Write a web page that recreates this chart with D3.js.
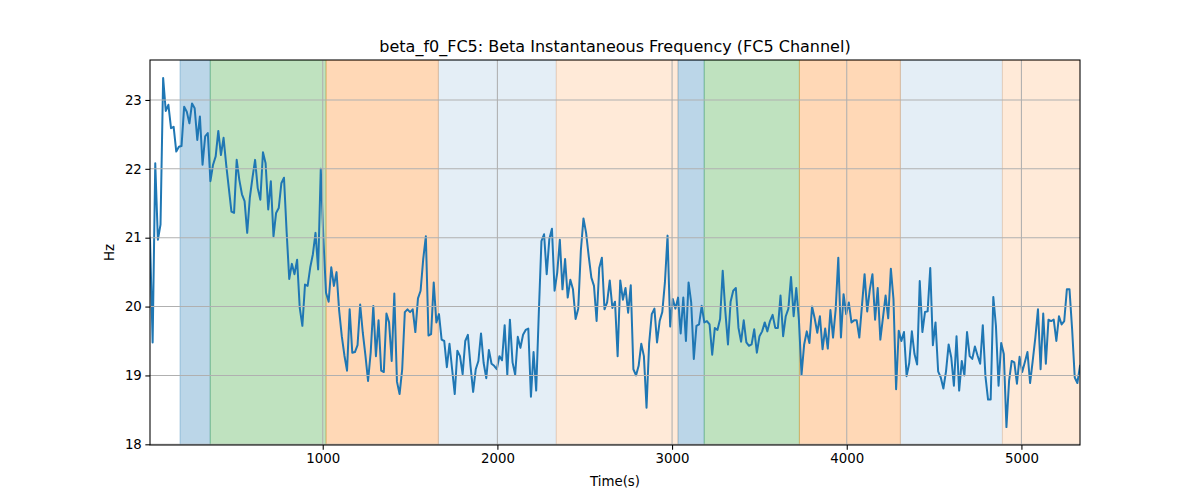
<!DOCTYPE html>
<html>
<head>
<meta charset="utf-8">
<script src="https://cdn.jsdelivr.net/npm/d3@7"></script>
<style>
  html, body { margin: 0; padding: 0; background: #fff; }
  svg { display: block; font-family: "DejaVu Sans", sans-serif; }
</style>
</head>
<body>
<svg id="chart" width="1200" height="500"></svg>
<script>
// ---------- data ----------
const title = "beta_f0_FC5: Beta Instantaneous Frequency (FC5 Channel)";
const xLabel = "Time(s)";
const yLabel = "Hz";

// sampling of the signal (seconds)
const startTime = 11.2;
const sampleStep = 15.04;

// instantaneous frequency values (Hz), one per sample
const freqValues = [
  21.0, 19.48, 22.08, 20.97, 21.19, 23.32, 22.84, 22.93, 22.59, 22.61,
  22.25, 22.32, 22.33, 22.90, 22.83, 22.66, 22.95, 22.88, 22.42, 22.76,
  22.06, 22.47, 22.52, 21.82, 22.06, 22.18, 22.55, 22.20, 22.45, 22.06,
  21.72, 21.38, 21.36, 22.13, 21.84, 21.63, 21.53, 21.07, 21.58, 21.87,
  22.13, 21.72, 21.55, 22.24, 22.08, 21.41, 21.82, 21.02, 21.36, 21.43,
  21.79, 21.87, 21.09, 20.40, 20.62, 20.47, 20.68, 19.98, 19.72,
  20.32, 20.30, 20.57, 20.76, 21.07, 20.54, 22.00, 20.98, 20.20, 20.07,
  20.57, 20.30, 20.50, 19.94, 19.57, 19.29, 19.07, 19.96, 19.33, 19.34,
  19.44, 20.03, 19.62, 19.29, 18.92, 19.33, 20.01, 19.28, 19.80, 19.07,
  19.05, 19.90, 19.77, 19.21, 20.19, 18.91, 18.73, 19.09, 19.92, 19.96,
  19.92, 19.96, 19.63, 20.12, 20.23, 20.69, 21.02, 19.58, 19.60, 20.35,
  19.77, 19.89, 19.52, 19.50, 19.12, 19.46, 19.09, 18.73,
  19.36, 19.28, 19.02, 19.50, 19.59, 19.14, 18.76, 19.09, 19.21, 19.61,
  19.18, 18.96, 19.37, 19.17, 19.14, 19.09, 19.28, 19.22, 19.73, 19.01,
  19.81, 19.19, 19.01, 19.56, 19.40, 19.59, 19.66, 19.68, 18.69, 19.34,
  18.78, 19.91, 20.95, 21.05, 20.47, 20.98, 21.13, 20.23, 20.49, 20.97,
  20.25, 20.69, 20.13, 20.39, 20.25, 19.82, 19.97, 20.81, 21.28, 21.07,
  20.73, 20.42, 20.30, 19.79, 20.56, 20.71, 19.96, 20.06,
  20.38, 19.98, 20.07, 19.28, 20.38, 20.10, 20.27, 19.91, 20.31, 19.09,
  19.00, 19.14, 19.46, 19.28, 18.53, 19.47, 19.89, 19.97, 19.48, 19.79,
  19.92, 20.35, 21.03, 19.71, 20.11, 19.97, 20.13, 19.61, 20.13, 19.50,
  20.35, 20.06, 19.24, 19.72, 19.74, 20.01, 19.77, 19.79, 19.74, 19.30,
  19.69, 19.66, 19.82, 20.52, 19.93, 19.45, 20.07, 20.23, 20.27, 19.69,
  19.49, 19.80, 19.48, 19.43, 19.45, 19.67, 19.33, 19.57,
  19.64, 19.77, 19.64, 19.79, 19.88, 19.69, 19.69, 20.16, 19.57, 19.86,
  19.97, 20.43, 19.86, 20.27, 19.81, 19.01, 19.45, 19.64, 19.47, 20.00,
  19.83, 19.62, 19.86, 19.38, 19.68, 19.39, 19.95, 19.55, 19.96, 20.71,
  19.55, 20.18, 19.89, 20.06, 19.77, 19.80, 19.80, 19.55, 20.01, 20.47,
  19.93, 20.25, 20.47, 19.81, 20.27, 19.52, 19.84, 20.16, 19.83, 20.55,
  20.11, 18.80, 19.65, 19.50, 19.63, 18.99, 19.18, 19.64,
  19.31, 19.16, 20.37, 19.63, 19.92, 19.93, 20.56, 19.44, 19.77, 19.06,
  18.97, 18.81, 19.06, 19.45, 19.26, 18.85, 19.57, 18.78, 19.21, 19.00,
  19.63, 19.28, 19.24, 19.42, 19.29, 19.17, 19.73, 18.99, 18.65, 18.65,
  20.14, 19.72, 18.85, 19.47, 19.31, 18.25, 18.92, 19.21, 19.19, 18.88,
  19.27, 19.05, 19.19, 19.34, 18.89, 19.21, 19.55, 19.96, 19.09, 19.90,
  19.17, 19.81, 19.79, 19.81, 19.50, 19.86, 19.74, 19.79, 20.25, 20.25,
  19.67, 18.97, 18.89, 19.14
];

// shaded phases
const spanStarts = [183, 356, 1019, 1662, 2337, 3034, 3184, 3729, 4307, 4891];
const spanEnds   = [356, 1019, 1662, 2337, 3034, 3184, 3729, 4307, 4891, 5400];
const spanKinds  = ["blue", "green", "orange", "lightblue", "lightorange",
                    "blue", "green", "orange", "lightblue", "lightorange"];

const xTicks = [1000, 2000, 3000, 4000, 5000];
const yTicks = [18, 19, 20, 21, 22, 23];

// ---------- styles ----------
const spanFill = {
  blue: "rgba(31,119,180,0.3)",
  green: "rgba(44,160,44,0.3)",
  orange: "rgba(255,127,14,0.3)",
  lightblue: "rgba(31,119,180,0.12)",
  lightorange: "rgba(255,127,14,0.16)"
};

// ---------- layout ----------
const W = 1200, H = 500;
const m = { left: 150, right: 120, top: 60, bottom: 55 };
const pw = W - m.left - m.right, ph = H - m.top - m.bottom;

const points = freqValues.map((v, i) => ({ t: startTime + i * sampleStep, v }));
const xMax = points[points.length - 1].t;

const x = d3.scaleLinear().domain([startTime, xMax]).range([0, pw]);
const y = d3.scaleLinear().domain([17.99, 23.58]).range([ph, 0]);

const svg = d3.select("#chart");
svg.append("rect").attr("width", W).attr("height", H).attr("fill", "#fff");

const g = svg.append("g").attr("transform", `translate(${m.left},${m.top})`);

svg.append("defs").append("clipPath").attr("id", "clip")
  .append("rect").attr("width", pw).attr("height", ph);

const plot = g.append("g").attr("clip-path", "url(#clip)");

// spans
const spans = spanStarts.map((s, i) => ({ s, e: spanEnds[i], k: spanKinds[i] }));
plot.selectAll("rect.span").data(spans).join("rect")
  .attr("class", "span")
  .attr("x", d => x(d.s))
  .attr("width", d => x(d.e) - x(d.s))
  .attr("y", 0).attr("height", ph)
  .attr("fill", d => spanFill[d.k])
  .attr("stroke", d => spanFill[d.k])
  .attr("stroke-width", 1);

// grid
const grid = g.append("g");
grid.selectAll("line.gx").data(xTicks).join("line")
  .attr("x1", d => x(d)).attr("x2", d => x(d))
  .attr("y1", 0).attr("y2", ph)
  .attr("stroke", "#b0b0b0").attr("stroke-width", 1.07);
grid.selectAll("line.gy").data(yTicks).join("line")
  .attr("y1", d => y(d)).attr("y2", d => y(d))
  .attr("x1", 0).attr("x2", pw)
  .attr("stroke", "#b0b0b0").attr("stroke-width", 1.07);

// line
plot.append("path").datum(points)
  .attr("fill", "none")
  .attr("stroke", "#1f77b4")
  .attr("stroke-width", 2)
  .attr("stroke-linejoin", "round")
  .attr("stroke-linecap", "square")
  .attr("d", d3.line().x(d => x(d.t)).y(d => y(d.v)));

// axes
const xAxis = g.append("g").attr("transform", `translate(0,${ph})`)
  .call(d3.axisBottom(x).tickValues(xTicks).tickFormat(d3.format("d")).tickSizeOuter(0).tickSize(4.67).tickPadding(3.5));
const yAxis = g.append("g")
  .call(d3.axisLeft(y).tickValues(yTicks).tickFormat(d3.format("d")).tickSizeOuter(0).tickSize(4.67).tickPadding(3.5));
[xAxis, yAxis].forEach(a => {
  a.selectAll("text").attr("font-size", 13.33).attr("fill", "#000")
    .attr("font-family", "DejaVu Sans, sans-serif");
  a.selectAll("line").attr("stroke", "#000").attr("stroke-width", 1.07);
  a.select(".domain").remove();
});

// frame
g.append("rect").attr("width", pw).attr("height", ph)
  .attr("fill", "none").attr("stroke", "#000").attr("stroke-width", 1.07);

// labels
svg.append("text").attr("x", m.left + pw / 2).attr("y", 52)
  .attr("text-anchor", "middle").attr("font-size", 16).attr("fill", "#000")
  .text(title);
svg.append("text").attr("x", m.left + pw / 2).attr("y", 486)
  .attr("text-anchor", "middle").attr("font-size", 13.33).attr("fill", "#000")
  .text(xLabel);
svg.append("text")
  .attr("transform", `translate(114,${m.top + ph / 2}) rotate(-90)`)
  .attr("text-anchor", "middle").attr("font-size", 13.33).attr("fill", "#000")
  .text(yLabel);
</script>
</body>
</html>
